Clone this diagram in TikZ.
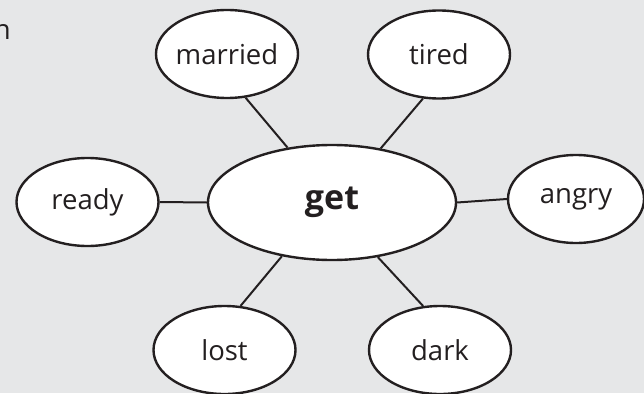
\documentclass[tikz,border=0pt]{standalone}
\usepackage{fontspec}
\setmainfont{Open Sans}
\usetikzlibrary{shapes.geometric}
\definecolor{paper}{HTML}{E6E7E8}
\definecolor{ink}{HTML}{231F20}
% keep the label width out of the ellipse size so every bubble has the set size
\newcommand{\bubbletext}[1]{\makebox[0pt]{#1}}
\tikzset{
  bubble/.style={ellipse, draw=ink, line width=2.4pt, fill=white, inner sep=0pt,
    minimum width=142pt, minimum height=88pt, text=ink,
    font=\fontsize{27.5}{32}\selectfont},
  hub/.style={bubble, minimum width=248pt, minimum height=115pt,
    font=\fontsize{34}{40}\selectfont\bfseries},
  link/.style={draw=ink, line width=2pt}
}
\begin{document}
\begin{tikzpicture}[x=1pt, y=-1pt]
  \fill[paper] (0,0) rectangle (644,393);
  \useasboundingbox (0,0) rectangle (644,393);

  \node[anchor=base east, text=ink, font=\fontsize{27.5}{32}\selectfont, inner sep=0pt]
    (cut) at (11,40) {n};

  \node[hub] (get) at (332,202.5) {\bubbletext{get}};
  \node[bubble] (married) at (227,54) {\bubbletext{married}};
  \node[bubble] (tired) at (439,54.5) {\bubbletext{tired}};
  \node[bubble] (ready) at (87.5,202) {\bubbletext{ready}};
  \node[bubble, minimum width=136pt] (angry) at (576,199) {\bubbletext{angry}};
  \node[bubble] (lost) at (224.5,350) {\bubbletext{lost}};
  \node[bubble] (dark) at (440,350) {\bubbletext{dark}};

  \path[link] (married.-67) -- (get.129);
  \path[link] (tired.-110) -- (get.48);
  \path[link] (ready.east) -- (get.west);
  \path[link] (get.east) -- (angry.west);
  \path[link] (lost.70) -- (get.-133);
  \path[link] (dark.111) -- (get.-50);
\end{tikzpicture}
\end{document}
